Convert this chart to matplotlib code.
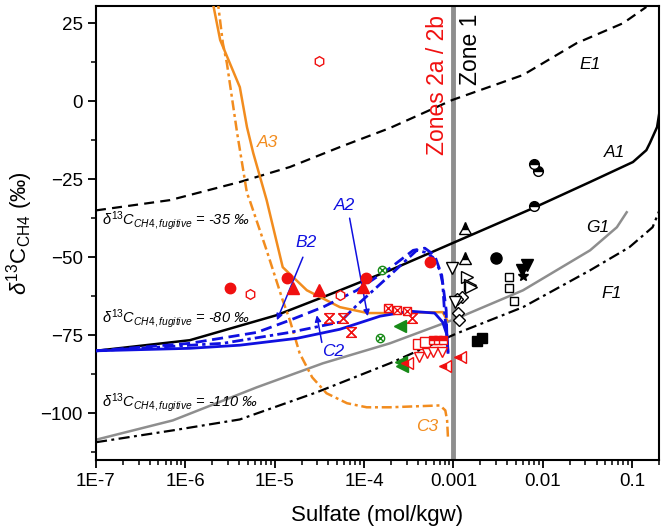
import numpy as np
import matplotlib
matplotlib.use('Agg')
import matplotlib.pyplot as plt
from matplotlib.ticker import FixedLocator, MultipleLocator, LogLocator, NullFormatter

plt.rcParams['font.family'] = ['Liberation Sans', 'DejaVu Sans']
plt.rcParams['mathtext.fontset'] = 'custom'
plt.rcParams['mathtext.rm'] = 'Liberation Sans'
plt.rcParams['mathtext.it'] = 'Liberation Sans:italic'
plt.rcParams['mathtext.bf'] = 'Liberation Sans:bold'

# ---------------- model curves (log10 sulfate, d13C) ----------------
e1_logx = [-7.0, -6.17, -5.39, -4.83, -4.27, -3.71, -3.01, -2.22, -1.62, -1.10, -0.84]
e1_y = [-35.0, -31.7, -25.9, -21.1, -14.7, -8.6, 0.4, 8.4, 18.6, 25.0, 30.2]

a1_logx = [-7.0, -5.95, -4.98, -4.46, -3.71, -3.01, -2.11, -1.47, -0.99, -0.84, -0.80, -0.72, -0.69]
a1_y = [-80.0, -76.6, -68.6, -62.8, -54.2, -45.5, -34.3, -25.9, -19.5, -15.7, -13.4, -8.3, -2.9]

g1_logx = [-7.0, -6.14, -5.20, -4.46, -3.71, -2.96, -2.22, -1.47, -1.17, -1.06]
g1_y = [-108.5, -102.3, -91.7, -84.0, -77.6, -69.6, -60.6, -47.8, -40.4, -35.6]

f1_logx = [-7.0, -6.14, -5.39, -4.53, -3.71, -2.96, -2.22, -1.47, -1.03, -0.77, -0.68]
f1_y = [-109.3, -105.5, -102.0, -93.3, -84.0, -74.4, -66.0, -54.2, -46.8, -40.4, -34.0]

a2_logx = [-7.0, -5.95, -5.39, -4.75, -4.27, -3.82, -3.49, -3.21, -3.12, -3.07, -3.06]
a2_y = [-80.0, -79.2, -78.2, -76.0, -73.1, -68.9, -67.3, -67.9, -70.8, -75.0, -80.5]

b2_logx = [-7.0, -5.95, -5.20, -4.83, -4.46, -4.08, -3.71, -3.45, -3.32, -3.21, -3.13, -3.08, -3.07]
b2_y = [-80.0, -77.6, -74.1, -70.2, -66.0, -60.6, -53.5, -47.8, -47.1, -49.4, -55.8, -67.0, -78.2]

c2_logx = [-7.0, -5.58, -4.83, -4.27, -4.08, -3.71, -3.41, -3.32, -3.23, -3.15, -3.12, -3.10, -3.07, -3.06]
c2_y = [-80.0, -77.6, -74.1, -70.8, -65.4, -55.8, -47.8, -48.4, -50.0, -54.2, -58.4, -67.0, -76.6, -80.5]

a3_logx = [-5.75, -5.61, -5.39, -5.31, -5.24, -5.09, -4.91, -4.64, -4.27, -3.96, -3.71, -3.12, -3.07]
a3_y = [40.0, 19.6, 4.5, -8.3, -16.6, -31.7, -53.2, -60.6, -66.0, -67.9, -67.9, -67.6, -70.2]

c3_logx = [-5.65, -5.58, -5.535, -5.42, -5.31, -5.28, -5.09, -4.91, -4.83, -4.72, -4.58, -4.42,
           -4.19, -3.97, -3.71, -3.15, -3.09, -3.07, -3.06]
c3_y = [35.0, 18.6, 12.2, -10.2, -29.5, -31.7, -47.8, -63.8, -70.2, -80.8, -88.5, -93.6,
        -96.8, -98.1, -98.1, -97.5, -99.1, -102.3, -108.1]

# ---------------- measured samples ----------------
red_circle_x = [3.15e-6, 1.37e-5, 1.05e-4, 5.45e-4]
red_circle_y = [-59.9, -56.7, -56.7, -51.6]
red_hex_x = [5.28e-6, 3.12e-5, 5.36e-5]
red_hex_y = [-61.9, 12.9, -62.2]
red_tri_x = [1.60e-5, 3.12e-5, 9.7e-5]
red_tri_y = [-59.9, -60.6, -59.6]
red_glass_x = [4.04e-5, 5.79e-5, 7.12e-5, 3.43e-4]
red_glass_y = [-69.6, -69.6, -74.1, -69.6]
red_boxx_x = [1.85e-4, 2.33e-4, 3.01e-4]
red_boxx_y = [-66.4, -67.0, -67.3]
green_ox_x = [1.58e-4, 1.50e-4]
green_ox_y = [-54.2, -76.0]
green_tl_x = [2.51e-4, 2.58e-4, 2.64e-4]
green_tl_y = [-72.1, -83.7, -85.0]
red_osq_x = [4.0e-4, 4.78e-4]
red_osq_y = [-77.9, -77.3]
red_fsq_x = [5.89e-4, 6.70e-4, 7.62e-4]
red_fsq_y = [-76.6, -76.6, -76.6]
red_td_x = [4.1e-4, 5.03e-4, 5.89e-4, 7.41e-4]
red_td_y = [-82.1, -80.8, -80.5, -80.5]
red_tl_x = [3.01e-4, 8.0e-4, 1.18e-3]
red_tl_y = [-84.0, -85.0, -82.1]
blk_sq_x = [1.83e-3, 2.08e-3]
blk_sq_y = [-76.9, -76.0]
open_dia_x = [1.12e-3, 1.15e-3, 1.24e-3, 1.09e-3]
open_dia_y = [-68.0, -70.2, -62.8, -63.5]
open_td_x = [9.6e-4, 1.04e-3]
open_td_y = [-53.5, -64.4]
open_tr_x = [1.41e-3, 1.53e-3, 1.57e-3]
open_tr_y = [-56.4, -59.0, -59.6]
half_tri_x = [1.34e-3, 1.34e-3]
half_tri_y = [-40.7, -50.3]
blk_circ_x = [2.98e-3]
blk_circ_y = [-50.3]
blk_td_x = [6.62e-3, 5.82e-3]
blk_td_y = [-52.6, -54.2]
blk_star_x = [5.97e-3]
blk_star_y = [-56.1]
open_sq_x = [4.17e-3, 4.17e-3, 4.74e-3]
open_sq_y = [-56.4, -59.9, -64.1]
half_circ_x = [7.93e-3, 8.8e-3, 7.93e-3]
half_circ_y = [-20.2, -22.4, -33.6]

xtick_vals = [1e-7, 1e-6, 1e-5, 1e-4, 1e-3, 1e-2, 1e-1]
xtick_labels = ['1E-7', '1E-6', '1E-5', '1E-4', '0.001', '0.01', '0.1']
ytick_vals = [25, 0, -25, -50, -75, -100]

ORANGE = '#F28C1E'
BLUE = '#1010E0'
RED = '#F01010'
GREEN = '#178A17'
GRAY = '#8E8E8E'

fig = plt.figure(figsize=(6.61, 5.32), dpi=100)
ax = fig.add_axes([0.1452, 0.1353, 0.8517, 0.8534])
ax.set_xscale('log')

def L(lx):
    return 10 ** np.asarray(lx)

ax.axvline(1e-3, color=GRAY, lw=3.5, zorder=1)

ax.plot(L(e1_logx), e1_y, color='black', lw=1.6, ls=(0, (4.5, 2.8)), zorder=2)
ax.plot(L(a1_logx), a1_y, color='black', lw=1.8, zorder=2)
ax.plot(L(g1_logx), g1_y, color=GRAY, lw=1.8, zorder=2)
ax.plot(L(f1_logx), f1_y, color='black', lw=1.6, ls=(0, (5, 2, 1.3, 2)), zorder=2)
ax.plot(L(a3_logx), a3_y, color=ORANGE, lw=1.8, zorder=3)
ax.plot(L(c3_logx), c3_y, color=ORANGE, lw=1.8, ls=(0, (4, 1.5, 1.2, 1.5)), zorder=3)
ax.plot(L(a2_logx), a2_y, color=BLUE, lw=2.0, zorder=3)
ax.plot(L(b2_logx), b2_y, color=BLUE, lw=2.0, ls=(0, (4, 2)), zorder=3)
ax.plot(L(c2_logx), c2_y, color=BLUE, lw=2.0, ls=(0, (4, 1.5, 1.2, 1.5)), zorder=3)

ms = 7
glass = [(-1, 1), (1, 1), (-1, -1), (1, -1), (-1, 1)]
kw = dict(ls='none', zorder=5)
ax.plot(red_circle_x, red_circle_y, marker='o', ms=ms + 0.5, color=RED, **kw)
ax.plot(red_hex_x, red_hex_y, marker='h', ms=ms, mfc='white', mec=RED, mew=1, **kw)
ax.plot(red_tri_x, red_tri_y, marker='^', ms=ms + 1, color=RED, **kw)
ax.plot(red_glass_x, red_glass_y, marker=glass, ms=ms, mfc='none', mec=RED, mew=1, **kw)
ax.plot(red_glass_x, red_glass_y, marker='x', ms=ms, mec=RED, mew=1, **kw)
ax.plot(red_boxx_x, red_boxx_y, marker='s', ms=ms - 1, mfc='white', mec=RED, mew=1, **kw)
ax.plot(red_boxx_x, red_boxx_y, marker='x', ms=ms - 1, mec=RED, mew=1, **kw)
ax.plot(green_ox_x, green_ox_y, marker='o', ms=ms - 1, mfc='white', mec=GREEN, mew=1, **kw)
ax.plot(green_ox_x, green_ox_y, marker='x', ms=ms - 2.5, mec=GREEN, mew=1, **kw)
ax.plot(green_tl_x, green_tl_y, marker='<', ms=ms + 1, color=GREEN, **kw)
ax.plot(red_osq_x, red_osq_y, marker='s', ms=ms, mfc='white', mec=RED, mew=1, **kw)
ax.plot(red_fsq_x, red_fsq_y, marker='s', ms=ms - 1, mfc=RED, mfcalt='white', fillstyle='top',
        mec=RED, mew=1, **kw)
ax.plot(red_td_x, red_td_y, marker='v', ms=ms, mfc='white', mec=RED, mew=1, **kw)
ax.plot(red_tl_x, red_tl_y, marker='<', ms=ms + 1, mfc=RED, mfcalt='white', fillstyle='left', mec=RED, mew=1, **kw)
ax.plot(blk_sq_x, blk_sq_y, marker='s', ms=ms, color='black', **kw)
ax.plot(open_dia_x, open_dia_y, marker='D', ms=ms - 1, mfc='white', mec='black', mew=1, **kw)
ax.plot(open_td_x, open_td_y, marker='v', ms=ms + 1, mfc='white', mec='black', mew=1, **kw)
ax.plot(open_tr_x, open_tr_y, marker='>', ms=ms + 1, mfc='white', mec='black', mew=1, **kw)
ax.plot(half_tri_x, half_tri_y, marker='^', ms=ms + 1, mfc='black', mfcalt='white', fillstyle='top', mec='black', mew=1, **kw)
ax.plot(blk_circ_x, blk_circ_y, marker='o', ms=ms + 1, color='black', **kw)
ax.plot(blk_td_x, blk_td_y, marker='v', ms=ms + 1, color='black', **kw)
ax.plot(blk_star_x, blk_star_y, marker='*', ms=ms + 1, color='black', **kw)
ax.plot(open_sq_x, open_sq_y, marker='s', ms=ms - 1, mfc='white', mec='black', mew=1, **kw)
ax.plot(half_circ_x, half_circ_y, marker='o', ms=ms, mfc='black', mfcalt='white', fillstyle='top', mec='black', mew=1, **kw)

# ---------------- labels ----------------
fs_c = 12.5
ax.text(0.0336, 11.6, 'E1', style='italic', fontsize=fs_c, ha='center', va='center')
ax.text(0.0638, -16.3, 'A1', style='italic', fontsize=fs_c, ha='center', va='center')
ax.text(0.0412, -40.4, 'G1', style='italic', fontsize=fs_c, ha='center', va='center')
ax.text(0.0592, -61.5, 'F1', style='italic', fontsize=fs_c, ha='center', va='center')
ax.text(8.4e-6, -13.4, 'A3', style='italic', fontsize=fs_c, color=ORANGE, ha='center', va='center')
ax.text(5.05e-4, -104.2, 'C3', style='italic', fontsize=fs_c, color=ORANGE, ha='center', va='center')
ax.text(6.1e-5, -33.3, 'A2', style='italic', fontsize=fs_c, color=BLUE, ha='center', va='center')
ax.text(2.23e-5, -45.2, 'B2', style='italic', fontsize=fs_c, color=BLUE, ha='center', va='center')
ax.text(4.48e-5, -80.1, 'C2', style='italic', fontsize=fs_c, color=BLUE, ha='center', va='center')

arr = dict(arrowstyle='-|>', color=BLUE, lw=1.1, mutation_scale=9, shrinkA=0, shrinkB=0)
ax.annotate('', xy=(1.10e-4, -68.9), xytext=(6.9e-5, -37.5), arrowprops=arr)
ax.annotate('', xy=(1.06e-5, -70.2), xytext=(2.07e-5, -50.0), arrowprops=arr)
ax.annotate('', xy=(2.96e-5, -68.6), xytext=(3.37e-5, -77.3), arrowprops=arr)

fs_f = 10.5
for yy, val in [(-38.1, '-35'), (-69.6, '-80'), (-96.5, '-110')]:
    ax.text(1.17e-7, yy, r'$\delta^{13}C_{CH4,fugitive}$' + ' = ' + val + ' ‰',
            style='italic', fontsize=fs_f, ha='left', va='center')

ax.text(6.7e-4, -17.3, 'Zones 2a / 2b', rotation=90, color=RED, fontsize=16.5,
        ha='center', va='bottom')
ax.text(1.57e-3, 5.2, 'Zone 1', rotation=90, color='black', fontsize=16.5,
        ha='center', va='bottom')

# ---------------- axes ----------------
ax.set_xlim(1e-7, 0.2)
ax.set_ylim(-115, 30.5)
ax.xaxis.set_major_locator(FixedLocator(xtick_vals))
ax.set_xticklabels(xtick_labels)
ax.xaxis.set_minor_locator(LogLocator(base=10, subs=np.arange(2, 10), numticks=20))
ax.xaxis.set_minor_formatter(NullFormatter())
ax.yaxis.set_major_locator(FixedLocator(ytick_vals))
ax.yaxis.set_minor_locator(MultipleLocator(12.5))
ax.tick_params(which='major', direction='out', length=6, width=1.3, labelsize=13.5,
               top=False, right=False)
ax.tick_params(which='minor', direction='out', length=3.5, width=1.1, top=False, right=False)
for s in ax.spines.values():
    s.set_linewidth(1.5)

ax.set_xlabel('Sulfate (mol/kgw)', fontsize=16)
ax.set_ylabel(r'$\delta^{13}$C$_{\mathrm{CH4}}$ (‰)', fontsize=16)
ax.xaxis.set_label_coords(0.5, -0.1)
ax.yaxis.set_label_coords(-0.108, 0.5)

fig.savefig('out.png', dpi=100)
